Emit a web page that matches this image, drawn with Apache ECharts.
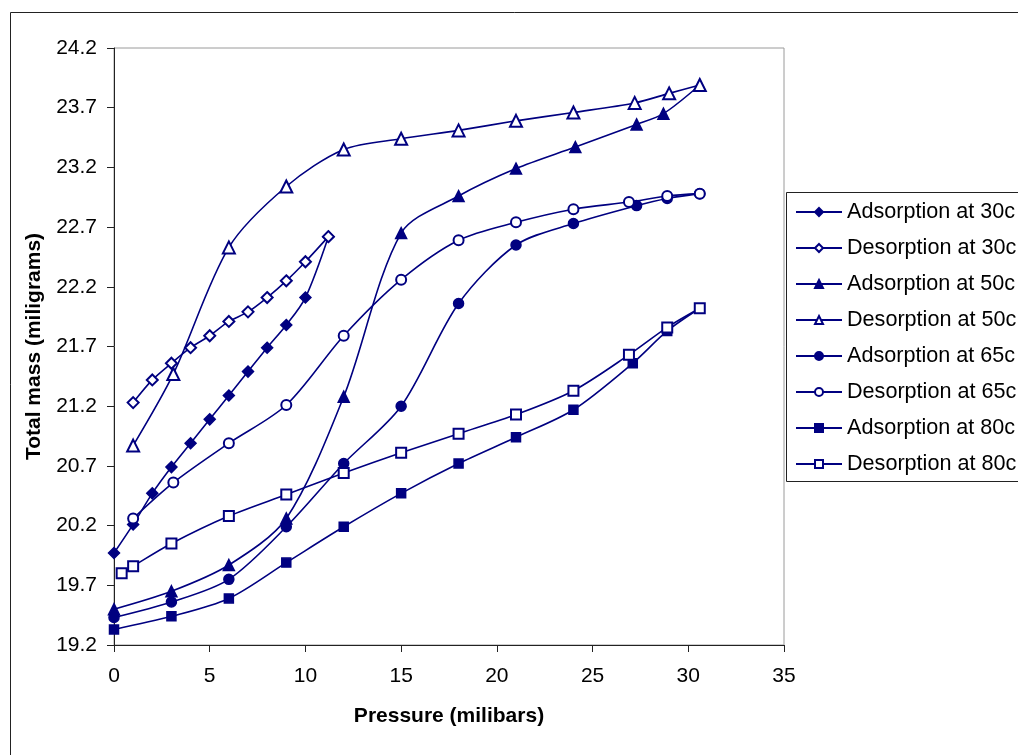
<!DOCTYPE html>
<html>
<head>
<meta charset="utf-8">
<script src="https://cdn.jsdelivr.net/npm/echarts@6/dist/echarts.min.js"></script>
<style>
  html, body { margin: 0; padding: 0; background: #fff; }
  #chart { width: 1018px; height: 755px; }
</style>
</head>
<body>
<div id="chart"></div>
<script>
// Pressure (milibars) and total mass (miligrams) for each isotherm
const ads30X = [0, 1, 2, 3, 4, 5, 6, 7, 8, 9, 10, 11.2];
const ads30Y = [19.97, 20.21, 20.47, 20.69, 20.89, 21.09, 21.29, 21.49, 21.69, 21.88, 22.11, 22.62];
const des30X = [11.2, 10, 9, 8, 7, 6, 5, 4, 3, 2, 1];
const des30Y = [22.62, 22.41, 22.25, 22.11, 21.99, 21.91, 21.79, 21.69, 21.56, 21.42, 21.23];

const ads50X = [0, 3, 6, 9, 12, 15, 18, 21, 24.1, 27.3, 28.7, 30.6];
const ads50Y = [19.50, 19.65, 19.87, 20.26, 21.28, 22.65, 22.96, 23.19, 23.37, 23.56, 23.65, 23.89];
const des50X = [30.6, 29, 27.2, 24, 21, 18, 15, 12, 9, 6, 3.1, 1];
const des50Y = [23.89, 23.82, 23.74, 23.66, 23.59, 23.51, 23.44, 23.35, 23.04, 22.53, 21.47, 20.87];

const ads65X = [0, 3, 6, 9, 12, 15, 18, 21, 24, 27.3, 28.9, 30.6];
const ads65Y = [19.43, 19.56, 19.75, 20.19, 20.72, 21.20, 22.06, 22.55, 22.73, 22.88, 22.94, 22.98];
const des65X = [30.6, 28.9, 26.9, 24, 21, 18, 15, 12, 9, 6, 3.1, 1];
const des65Y = [22.98, 22.96, 22.91, 22.85, 22.74, 22.59, 22.26, 21.79, 21.21, 20.89, 20.56, 20.26];

const ads80X = [0, 3, 6, 9, 12, 15, 18, 21, 24, 27.1, 28.9, 30.6];
const ads80Y = [19.33, 19.44, 19.59, 19.89, 20.19, 20.47, 20.72, 20.94, 21.17, 21.56, 21.83, 22.02];
const des80X = [30.6, 28.9, 26.9, 24, 21, 18, 15, 12, 9, 6, 3, 1, 0.4];
const des80Y = [22.02, 21.86, 21.63, 21.33, 21.13, 20.97, 20.81, 20.64, 20.46, 20.28, 20.05, 19.86, 19.80];

const seriesNames = [
  'Adsorption at 30c', 'Desorption at 30c',
  'Adsorption at 50c', 'Desorption at 50c',
  'Adsorption at 65c', 'Desorption at 65c',
  'Adsorption at 80c', 'Desorption at 80c'
];
const seriesX = [ads30X, des30X, ads50X, des50X, ads65X, des65X, ads80X, des80X];
const seriesY = [ads30Y, des30Y, ads50Y, des50Y, ads65Y, des65Y, ads80Y, des80Y];
const seriesSymbols = ['diamond', 'emptyDiamond', 'triangle', 'emptyTriangle',
                       'circle', 'emptyCircle', 'rect', 'emptyRect'];
const symbolSizes = [11, 11, 11, 12, 10, 10, 9, 10];

const xTicks = { min: 0, max: 35, step: 5 };
const yTicks = { min: 19.2, max: 24.2, step: 0.5 };

const NAVY = '#000080';
const FONT = '"Liberation Sans", Arial, sans-serif';

const chart = echarts.init(document.getElementById('chart'), null, { renderer: 'canvas' });

const series = seriesNames.map((name, i) => ({
  name,
  type: 'line',
  data: seriesX[i].map((x, k) => [x, seriesY[i][k]]),
  symbol: seriesSymbols[i],
  symbolSize: symbolSizes[i],
  showAllSymbol: true,
  smooth: 0.3,
  lineStyle: { color: NAVY, width: 1.6 },
  itemStyle: { color: NAVY, borderColor: NAVY, borderWidth: 1.5 },
  emphasis: { disabled: true },
  animation: false
}));

chart.setOption({
  backgroundColor: '#fff',
  animation: false,
  graphic: [{
    // outer chart frame
    type: 'rect',
    shape: { x: 10.5, y: 12.5, width: 1030, height: 780 },
    style: { fill: 'none', stroke: '#222', lineWidth: 1 },
    silent: true
  }, {
    // legend frame, running past the right edge
    type: 'rect',
    shape: { x: 786.5, y: 192.5, width: 300, height: 289 },
    style: { fill: '#fff', stroke: '#222', lineWidth: 1 },
    z: 0,
    silent: true
  }],
  grid: {
    left: 114, top: 48, width: 670, height: 597,
    show: true, borderColor: '#9a9a9a', borderWidth: 1, backgroundColor: 'transparent'
  },
  legend: {
    orient: 'vertical',
    left: 786, top: 192,
    itemWidth: 46, itemHeight: 10,
    itemGap: 14,
    padding: [9, 0, 8, 9],
    selectedMode: false,
    z: 5,
    textStyle: { fontFamily: FONT, fontSize: 21.6, color: '#000' },
    data: seriesNames
  },
  xAxis: {
    type: 'value',
    min: xTicks.min, max: xTicks.max, interval: xTicks.step,
    name: 'Pressure (milibars)',
    nameLocation: 'middle', nameGap: 61,
    nameTextStyle: { fontFamily: FONT, fontSize: 21, fontWeight: 'bold', color: '#000' },
    axisLine: { lineStyle: { color: '#222', width: 1 } },
    axisTick: { show: true, inside: false, length: 7, lineStyle: { color: '#222' } },
    axisLabel: { fontFamily: FONT, fontSize: 21, color: '#000', margin: 21 },
    splitLine: { show: false }
  },
  yAxis: {
    type: 'value',
    min: yTicks.min, max: yTicks.max, interval: yTicks.step,
    name: 'Total mass (miligrams)',
    nameLocation: 'middle', nameGap: 69,
    nameTextStyle: { fontFamily: FONT, fontSize: 21, fontWeight: 'bold', color: '#000' },
    axisLine: { show: true, lineStyle: { color: '#222', width: 1 } },
    axisTick: { show: true, inside: false, length: 7, lineStyle: { color: '#222' } },
    axisLabel: {
      fontFamily: FONT, fontSize: 21, color: '#000', margin: 17,
      formatter: v => v.toFixed(1)
    },
    splitLine: { show: false }
  },
  series
});
</script>
</body>
</html>
